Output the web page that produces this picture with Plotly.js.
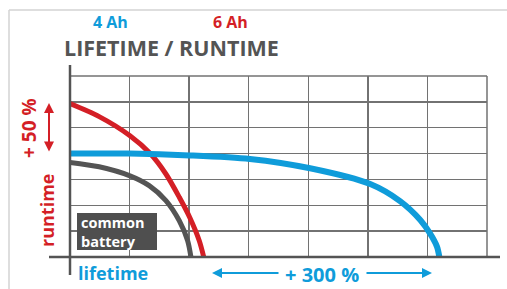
<!DOCTYPE html>
<html>
<head>
<meta charset="utf-8">
<script src="https://cdn.plot.ly/plotly-3.0.1.min.js"></script>
<style>html,body{margin:0;padding:0;background:#fff;}#chart{width:507px;height:289px;}</style>
</head>
<body>
<div id="chart"></div>
<script>
// Data (grid units: 7 columns x 7 rows)
const sixAhX = [0, 0.49, 1.007, 1.343, 1.61, 1.835, 2.014, 2.17, 2.245];
const sixAhY = [5.93, 5.43, 4.69, 4.01, 3.21, 2.31, 1.51, 0.63, 0];
const commonX = [0, 0.49, 1.007, 1.33, 1.61, 1.835, 1.975, 2.03];
const commonY = [3.66, 3.49, 3.14, 2.76, 2.18, 1.40, 0.63, 0];
const fourAhX = [0, 1.0, 2.01, 3.02, 4.03, 5.04, 5.54, 5.88, 6.04, 6.16, 6.2];
const fourAhY = [4.0, 4.0, 3.93, 3.79, 3.43, 2.82, 2.16, 1.43, 0.92, 0.4, 0];
const labels = {
  fourAh: '4 Ah', sixAh: '6 Ah', title: 'LIFETIME / RUNTIME',
  runtimeGain: '+ 50 %', runtime: 'runtime', lifetime: 'lifetime',
  lifetimeGain: '+ 300 %', common: 'common<br>battery'
};

const RED = '#d41f26', BLUE = '#0f9cda', GRAY = '#545454', GRID = '#727272';
const W = 507, H = 289, L = 70, R = 20, T = 76, B = 32;
const pw = W - L - R, ph = H - T - B;
const px = v => (v - L) / pw;
const py = v => (H - B - v) / ph;
const FONT = 'Open Sans';

const traces = [
  {x: commonX, y: commonY, mode: 'lines', line: {color: GRAY, width: 5, shape: 'spline', smoothing: 0.8}, hoverinfo: 'skip'},
  {x: sixAhX, y: sixAhY, mode: 'lines', line: {color: RED, width: 5, shape: 'spline', smoothing: 0.8}, hoverinfo: 'skip'},
  {x: fourAhX, y: fourAhY, mode: 'lines', line: {color: BLUE, width: 6, shape: 'spline', smoothing: 0.8}, hoverinfo: 'skip'}
];

function txt(text, x, y, color, size, extra) {
  return Object.assign({xref: 'paper', yref: 'paper', x: px(x), y: py(y), text: text, showarrow: false,
    xanchor: 'center', yanchor: 'middle', borderpad: 0,
    font: {family: FONT, size: size, color: color, weight: 700}}, extra || {});
}
function arrow(x, y, axp, ayp, color, both) {
  return {xref: 'paper', yref: 'paper', x: px(x), y: py(y), axref: 'pixel', ayref: 'pixel',
    ax: axp - x, ay: ayp - y, text: '', showarrow: true, arrowhead: 2, arrowsize: 1, arrowwidth: 2,
    arrowcolor: color, arrowside: both ? 'end+start' : 'end', standoff: 0, startstandoff: 0};
}

const annotations = [
  txt(labels.fourAh, 110.5, 22, BLUE, 16),
  txt(labels.sixAh, 230, 22, RED, 16),
  txt(labels.title, 171, 47.5, GRAY, 21.5),
  txt(labels.runtimeGain, 29, 128, RED, 19, {textangle: -90}),
  txt(labels.runtime, 47, 211, RED, 18, {textangle: -90}),
  txt(labels.lifetime, 77, 273, BLUE, 18, {xanchor: 'left'}),
  txt(labels.lifetimeGain, 322, 274, BLUE, 20),
  txt(labels.common, 80, 232, '#ffffff', 14.5, {xanchor: 'left', align: 'left'}),
  arrow(49, 103, 49, 153, RED, true),
  arrow(212, 273, 280, 273, BLUE, false),
  arrow(432, 273, 365, 273, BLUE, false)
];

const shapes = [
  // outer frame (top and left)
  {type: 'line', xref: 'paper', yref: 'paper', x0: px(9), x1: px(507), y0: py(10), y1: py(10), line: {color: '#d3d3d3', width: 1.5}},
  {type: 'line', xref: 'paper', yref: 'paper', x0: px(9), x1: px(9), y0: py(10), y1: py(289), line: {color: '#d3d3d3', width: 1.5}},
  // top and right edges of the grid
  {type: 'line', xref: 'paper', yref: 'paper', x0: 0, x1: 1, y0: 1, y1: 1, line: {color: GRID, width: 1.5}, layer: 'below'},
  {type: 'line', xref: 'paper', yref: 'paper', x0: 1, x1: 1, y0: 0, y1: 1, line: {color: GRID, width: 1.5}, layer: 'below'},
  // common battery box
  {type: 'rect', xref: 'paper', yref: 'paper', x0: px(77), x1: px(157), y0: py(213), y1: py(250), fillcolor: '#4f4f4f', line: {width: 0}, layer: 'above'},
  // extended axis lines
  {type: 'line', xref: 'paper', yref: 'paper', x0: px(49), x1: px(500), y0: 0, y1: 0, line: {color: GRAY, width: 2.5}, layer: 'above'},
  {type: 'line', xref: 'paper', yref: 'paper', x0: 0, x1: 0, y0: py(65), y1: py(275), line: {color: GRAY, width: 2.5}, layer: 'above'}
];

const axisCommon = {range: [0, 7], dtick: 1, tick0: 0, showgrid: true, gridcolor: GRID, gridwidth: 1.5,
  zeroline: false, showline: false, showticklabels: false, ticks: '', fixedrange: true};

const layout = {
  width: W, height: H, margin: {l: L, r: R, t: T, b: B, pad: 0},
  paper_bgcolor: '#ffffff', plot_bgcolor: '#ffffff', showlegend: false,
  xaxis: Object.assign({}, axisCommon),
  yaxis: Object.assign({}, axisCommon),
  shapes: shapes, annotations: annotations
};

Plotly.newPlot('chart', traces, layout, {displayModeBar: false, staticPlot: true});
</script>
</body>
</html>
